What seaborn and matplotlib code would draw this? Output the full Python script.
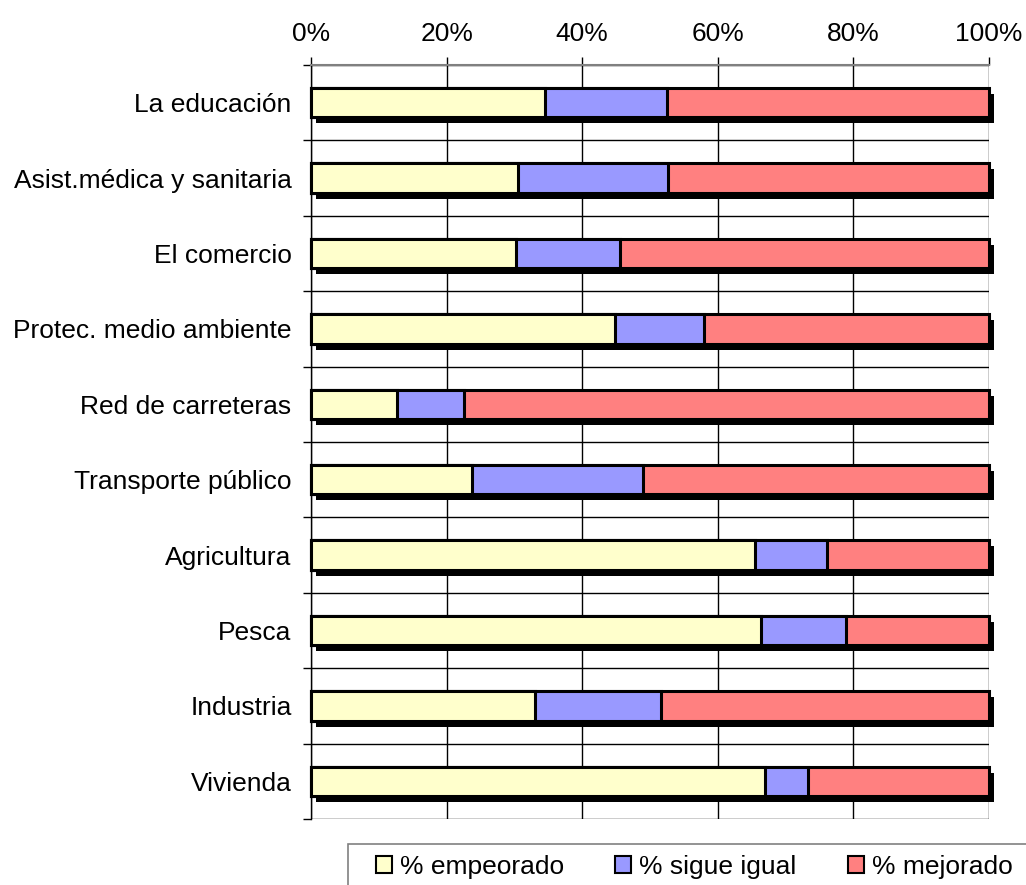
import matplotlib
matplotlib.use("Agg")
import matplotlib.pyplot as plt
import matplotlib.patheffects as pe
from matplotlib.ticker import FuncFormatter, FixedLocator
from matplotlib.patches import Patch, Rectangle
import seaborn as sns
import pandas as pd
import numpy as np

categories = [
    "La educación", "Asist.médica y sanitaria", "El comercio",
    "Protec. medio ambiente", "Red de carreteras", "Transporte público",
    "Agricultura", "Pesca", "Industria", "Vivienda",
]
empeorado = [34.5, 30.5, 30.2, 44.8, 12.7, 23.7, 65.5, 66.4, 33.0, 67.0]
sigue_igual = [18.0, 22.2, 15.4, 13.2, 9.9, 25.3, 10.6, 12.5, 18.6, 6.3]
mejorado = [47.5, 47.3, 54.4, 42.0, 77.4, 51.0, 23.9, 21.1, 48.4, 26.7]

series = ["% empeorado", "% sigue igual", "% mejorado"]
colors = ["#FFFFCC", "#9999FF", "#FF8080"]

df = pd.DataFrame({
    "cat": categories,
    "emp": empeorado,
    "sig": sigue_igual,
    "mej": mejorado,
})
df["c1"] = df["emp"]
df["c2"] = df["emp"] + df["sig"]
df["c3"] = df["c2"] + df["mej"]

sns.set_style("white")
plt.rcParams["font.family"] = ["Liberation Sans", "DejaVu Sans"]
plt.rcParams["text.color"] = "black"
plt.rcParams["xtick.color"] = "black"
plt.rcParams["ytick.color"] = "black"

W, H = 1026, 885
fig = plt.figure(figsize=(W / 100, H / 100), dpi=100)
ax = fig.add_axes([0.3031, 0.0746, 0.6608, 0.852])

# stacked bars: draw cumulative totals from longest to shortest
for col, color, shadow in [("c3", colors[2], True), ("c2", colors[1], False), ("c1", colors[0], False)]:
    n_before = len(ax.patches)
    sns.barplot(data=df, x=col, y="cat", orient="h", color=color,
                width=0.39, edgecolor="black", linewidth=2.2,
                saturation=1, errorbar=None, ax=ax, zorder=3)
    for p in ax.patches[n_before:]:
        p.set_facecolor(color)
        p.set_clip_on(False)
        if shadow:
            p.set_path_effects([
                pe.SimplePatchShadow(offset=(3.8, -4.3), shadow_rgbFace="black", alpha=1.0),
                pe.Normal(),
            ])

ax.set_xlim(0, 100)
ax.set_ylim(9.5, -0.5)
ax.set_xlabel("")
ax.set_ylabel("")

ax.xaxis.tick_top()
ax.set_xticks(np.arange(0, 101, 20))
ax.xaxis.set_major_formatter(FuncFormatter(lambda v, _: f"{int(v)}%"))
ax.tick_params(axis="x", which="major", direction="out", length=6, width=1,
               color="black", labelcolor="black", labelsize=19, pad=8,
               top=True, bottom=False)

ax.yaxis.set_minor_locator(FixedLocator(np.arange(-0.5, 10, 1)))
ax.tick_params(axis="y", which="major", length=0, labelsize=19,
               labelcolor="black", pad=14)
ax.tick_params(axis="y", which="minor", direction="out", length=6, width=1,
               color="black", left=True)

ax.set_axisbelow(True)
ax.grid(axis="x", which="major", color="black", linewidth=1)
ax.grid(axis="y", which="minor", color="black", linewidth=1)
ax.grid(axis="y", which="major", visible=False)

for s in ["right", "bottom"]:
    ax.spines[s].set_visible(False)
ax.spines["top"].set_color("#808080")
ax.spines["top"].set_linewidth(1.5)
ax.spines["left"].set_color("black")
ax.spines["left"].set_linewidth(1)

# legend box runs off the right and bottom edges of the picture
fig.add_artist(Rectangle((348 / W, -0.1), 1.0, 0.1 + (H - 844) / H,
                         transform=fig.transFigure, fill=False,
                         edgecolor="#808080", linewidth=1.2))
handles = [Patch(facecolor=c, edgecolor="black", linewidth=1.5) for c in colors]
leg = fig.legend(handles, series, loc="upper left",
                 bbox_to_anchor=(376 / W, 1 - 855 / H),
                 ncol=3, fontsize=19, frameon=False,
                 handlelength=0.6, handleheight=0.6, handletextpad=0.3,
                 columnspacing=1.95, borderpad=0, borderaxespad=0)

fig.savefig("out.png", dpi=100)
